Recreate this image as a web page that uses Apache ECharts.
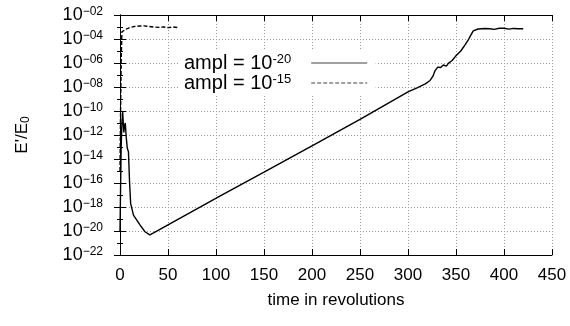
<!DOCTYPE html>
<html>
<head>
<meta charset="utf-8">
<script src="https://cdn.jsdelivr.net/npm/echarts@6/dist/echarts.min.js"></script>
<style>
  html, body { margin: 0; padding: 0; background: #fff; }
  #chart { width: 570px; height: 326px; }
</style>
</head>
<body>
<div id="chart"></div>
<script>
// ampl = 1e-20 run (solid)
const solidT = [0, 0.5, 1.2, 2, 2.8, 3.4, 4, 4.6, 5.5, 6.5, 7.6, 8.2, 8.8, 10, 11.1, 14, 17.5, 20.8, 26, 31, 35,
    104, 150, 200, 250, 300, 310, 318, 323, 326, 328, 331, 334, 336.8, 340, 342, 346, 350.7, 355, 359.4, 362.8,
    365, 368, 373, 380, 385, 390, 395, 400, 405, 410, 415, 420]
const solidE = [1e-20, 1e-17, 1e-13, 1e-11, 8.7e-11, 1e-11, 1.6e-12, 5e-12, 1e-11, 6.3e-13, 7.9e-14, 1e-13, 4e-14,
    1e-16, 2e-18, 2.1e-19, 7.9e-20, 3.2e-20, 8.7e-21, 4.7e-21, 7.1e-21,
    7.9e-18, 7.9e-16, 1.26e-13, 2e-11, 4e-9, 8.9e-9, 1.8e-8, 3.5e-8, 8e-8, 2.2e-7, 4.5e-7, 4.2e-7, 6.8e-7, 5.5e-7,
    9.3e-7, 1.6e-6, 4.7e-6, 1e-5, 3.2e-5, 8.3e-5, 1.8e-4, 4.7e-4, 6.8e-4, 7.6e-4, 7.1e-4, 6.3e-4, 7.9e-4,
    7.9e-4, 6.6e-4, 7.6e-4, 7.1e-4, 7.1e-4]
// ampl = 1e-15 run (dashed)
const dashT = [0, 0.6, 1.2, 2, 4, 7, 10, 15, 20, 25, 30, 35, 40, 45, 50, 55, 60]
const dashE = [1e-15, 1e-10, 1e-6, 4e-4, 5e-4, 7.1e-4, 8.9e-4, 1.1e-3, 1.2e-3, 1.25e-3, 1.1e-3, 1e-3, 9.3e-4,
    1e-3, 8.9e-4, 1e-3, 8.9e-4]
const xTicks = [0, 450, 50]
// y axis in decades (log10 of E'/E0)
const yTicks = [-22, -2, 2]

const font = 'Liberation Sans, Arial, Helvetica, sans-serif'
const chart = echarts.init(document.getElementById('chart'))

function expLabel(e) {
    const s = String(Math.abs(e)).padStart(2, '0')
    return '{b|10}{s|' + (e < 0 ? '\u2212' : '') + s + '}'
}

const gridLine = { show: true, lineStyle: { color: '#999', type: [1, 2], width: 1 } }
const black = { color: '#000', width: 1 }

const option = {
    animation: false,
    grid: { left: 120, right: 18, top: 15, bottom: 71 },
    legend: {
        left: 179, top: 51,
        orient: 'vertical',
        align: 'right',
        itemWidth: 56, itemHeight: 14, itemGap: 0,
        padding: [2, 8, 2, 5],
        backgroundColor: '#fff',
        itemStyle: { color: 'rgba(0,0,0,0)', borderWidth: 0 },
        lineStyle: { width: 1, color: '#444' },
        formatter: name => '{b|ampl = 10}{s|' + name.split('^')[1] + '}',
        textStyle: {
            color: '#000', fontFamily: font,
            rich: {
                b: { fontSize: 20, fontFamily: font, color: '#000', lineHeight: 20 },
                s: { fontSize: 13, fontFamily: font, color: '#000', verticalAlign: 'top', lineHeight: 15, padding: [0, 15, 0, 0] }
            }
        }
    },
    xAxis: [{
        type: 'value', min: xTicks[0], max: xTicks[1], interval: xTicks[2],
        name: 'time in revolutions', nameLocation: 'middle', nameGap: 37,
        nameTextStyle: { fontSize: 17, fontFamily: font, color: '#000' },
        axisLine: { show: true, lineStyle: black },
        axisTick: { show: true, inside: true, length: 6, lineStyle: black },
        axisLabel: { fontSize: 17, fontFamily: font, color: '#000', margin: 12 },
        splitLine: gridLine
    }, {
        type: 'value', position: 'top', min: xTicks[0], max: xTicks[1], interval: xTicks[2],
        axisLine: { show: true, lineStyle: black },
        axisTick: { show: true, inside: true, length: 6, lineStyle: black },
        axisLabel: { show: false }, splitLine: { show: false }
    }],
    yAxis: [{
        type: 'value', min: yTicks[0], max: yTicks[1], interval: yTicks[2],
        name: '{b|E\'/E}{sub|0}', nameLocation: 'middle', nameGap: 88,
        nameTextStyle: {
            fontFamily: font, color: '#000',
            rich: {
                b: { fontSize: 17, fontFamily: font, color: '#000' },
                sub: { fontSize: 12, fontFamily: font, color: '#000', verticalAlign: 'bottom', padding: [8, 0, 0, 0] }
            }
        },
        axisLine: { show: true, lineStyle: black },
        axisTick: { show: true, inside: true, length: 6, lineStyle: black },
        minorTick: { show: true, splitNumber: 2, length: 3, lineStyle: black },
        axisLabel: {
            margin: 17, formatter: expLabel, color: '#000',
            rich: {
                b: { fontSize: 18, fontFamily: font, color: '#000', lineHeight: 18 },
                s: { fontSize: 12, fontFamily: font, color: '#000', verticalAlign: 'top', lineHeight: 12 }
            }
        },
        splitLine: gridLine
    }, {
        type: 'value', position: 'right', min: yTicks[0], max: yTicks[1], interval: yTicks[2],
        axisLine: { show: true, lineStyle: black },
        axisTick: { show: true, inside: true, length: 6, lineStyle: black },
        minorTick: { show: true, splitNumber: 2, length: 3, lineStyle: black },
        axisLabel: { show: false }, splitLine: { show: false }
    }],
    series: [{
        name: 'ampl = 10^-20', type: 'line', symbol: 'none', xAxisIndex: 0, yAxisIndex: 0,
        lineStyle: { color: '#000', width: 1.4 },
        itemStyle: { color: '#000' },
        data: solidT.map((t, i) => [t, Math.log10(solidE[i])])
    }, {
        name: 'ampl = 10^-15', type: 'line', symbol: 'none', xAxisIndex: 0, yAxisIndex: 0,
        lineStyle: { color: '#000', width: 1.4, type: [4, 2] },
        itemStyle: { color: '#000' },
        data: dashT.map((t, i) => [t, Math.log10(dashE[i])])
    }]
}
chart.setOption(option)
</script>
</body>
</html>
